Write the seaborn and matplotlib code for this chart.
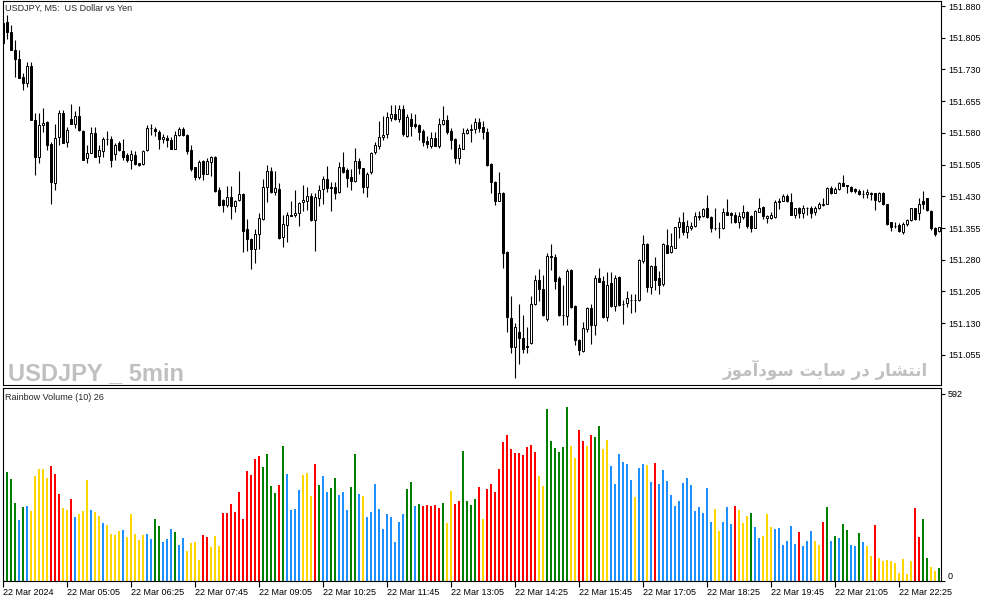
import matplotlib
matplotlib.use('Agg')
import matplotlib.pyplot as plt
import numpy as np
import pandas as pd
import seaborn as sns

# USDJPY M5 candles, 22 Mar 2024 03:45 onwards (one value per bar)
opens = [
    151.839, 151.843, 151.819, 151.777, 151.756, 151.713, 151.698, 151.738, 151.610, 151.524,
    151.599, 151.606, 151.554, 151.461, 151.571, 151.626, 151.558, 151.612, 151.602, 151.621,
    151.585, 151.520, 151.533, 151.580, 151.525, 151.538, 151.565, 151.565, 151.530, 151.555,
    151.538, 151.528, 151.517, 151.527, 151.508, 151.506, 151.539, 151.591, 151.590, 151.582,
    151.565, 151.569, 151.563, 151.543, 151.575, 151.590, 151.575, 151.539, 151.499, 151.476,
    151.513, 151.484, 151.512, 151.524, 151.445, 151.421, 151.409, 151.428, 151.407, 151.421,
    151.435, 151.353, 151.329, 151.305, 151.342, 151.376, 151.451, 151.490, 151.441, 151.447,
    151.334, 151.363, 151.387, 151.386, 151.390, 151.416, 151.419, 151.431, 151.374, 151.427,
    151.447, 151.471, 151.451, 151.451, 151.441, 151.499, 151.492, 151.475, 151.466, 151.513,
    151.496, 151.451, 151.487, 151.534, 151.550, 151.571, 151.577, 151.616, 151.625, 151.613,
    151.636, 151.573, 151.614, 151.602, 151.599, 151.584, 151.561, 151.550, 151.569, 151.550,
    151.600, 151.610, 151.584, 151.565, 151.520, 151.543, 151.579, 151.587, 151.589, 151.605,
    151.594, 151.582, 151.506, 151.464, 151.420, 151.438, 151.299, 151.142, 151.074, 151.108,
    151.094, 151.076, 151.082, 151.175, 151.232, 151.210, 151.139, 151.289, 151.286, 151.238,
    151.149, 151.147, 151.256, 151.171, 151.090, 151.065, 151.116, 151.165, 151.126, 151.236,
    151.230, 151.145, 151.224, 151.171, 151.240, 151.175, 151.177, 151.186, 151.185, 151.185,
    151.278, 151.317, 151.216, 151.265, 151.238, 151.223, 151.315, 151.299, 151.309, 151.357,
    151.370, 151.346, 151.354, 151.360, 151.383, 151.383, 151.402, 151.382, 151.356, 151.356,
    151.354, 151.392, 151.390, 151.387, 151.369, 151.382, 151.394, 151.384, 151.356, 151.394,
    151.405, 151.378, 151.378, 151.382, 151.419, 151.419, 151.431, 151.416, 151.387, 151.402,
    151.390, 151.403, 151.402, 151.394, 151.403, 151.409, 151.413, 151.450, 151.439, 151.447,
    151.461, 151.457, 151.453, 151.447, 151.442, 151.435, 151.435, 151.439, 151.437, 151.419,
    151.439, 151.411, 151.369, 151.360, 151.362, 151.346, 151.364, 151.374, 151.402, 151.390,
    151.419, 151.425, 151.395, 151.356, 151.348,
]
highs = [
    151.843, 151.859, 151.835, 151.799, 151.777, 151.721, 151.748, 151.748, 151.626, 151.626,
    151.638, 151.608, 151.559, 151.602, 151.634, 151.634, 151.594, 151.648, 151.632, 151.643,
    151.587, 151.551, 151.594, 151.594, 151.551, 151.571, 151.585, 151.573, 151.555, 151.561,
    151.565, 151.533, 151.539, 151.538, 151.509, 151.539, 151.599, 151.602, 151.593, 151.588,
    151.577, 151.575, 151.571, 151.585, 151.593, 151.593, 151.577, 151.551, 151.500, 151.516,
    151.516, 151.520, 151.525, 151.526, 151.453, 151.423, 151.454, 151.454, 151.421, 151.490,
    151.437, 151.376, 151.331, 151.353, 151.390, 151.471, 151.504, 151.500, 151.490, 151.461,
    151.386, 151.394, 151.419, 151.445, 151.417, 151.458, 151.453, 151.437, 151.439, 151.458,
    151.479, 151.502, 151.463, 151.464, 151.512, 151.534, 151.496, 151.495, 151.545, 151.521,
    151.498, 151.488, 151.534, 151.559, 151.608, 151.621, 151.629, 151.647, 151.647, 151.647,
    151.647, 151.624, 151.626, 151.624, 151.600, 151.589, 151.573, 151.583, 151.583, 151.616,
    151.643, 151.622, 151.591, 151.567, 151.553, 151.591, 151.591, 151.600, 151.616, 151.616,
    151.608, 151.591, 151.508, 151.467, 151.488, 151.441, 151.301, 151.194, 151.130, 151.175,
    151.149, 151.120, 151.194, 151.244, 151.257, 151.244, 151.295, 151.317, 151.294, 151.242,
    151.220, 151.257, 151.258, 151.173, 151.092, 151.134, 151.169, 151.175, 151.244, 151.260,
    151.242, 151.252, 151.252, 151.244, 151.242, 151.186, 151.207, 151.199, 151.199, 151.281,
    151.338, 151.319, 151.268, 151.287, 151.254, 151.319, 151.352, 151.344, 151.358, 151.380,
    151.394, 151.374, 151.370, 151.394, 151.396, 151.402, 151.433, 151.384, 151.402, 151.370,
    151.403, 151.424, 151.394, 151.394, 151.392, 151.409, 151.396, 151.386, 151.397, 151.427,
    151.408, 151.386, 151.394, 151.421, 151.427, 151.435, 151.435, 151.437, 151.403, 151.405,
    151.409, 151.405, 151.408, 151.408, 151.416, 151.425, 151.453, 151.455, 151.453, 151.463,
    151.480, 151.458, 151.455, 151.449, 151.447, 151.445, 151.447, 151.441, 151.439, 151.441,
    151.441, 151.413, 151.370, 151.369, 151.366, 151.369, 151.376, 151.403, 151.403, 151.425,
    151.442, 151.427, 151.397, 151.358, 151.358,
]
lows = [
    151.788, 151.803, 151.776, 151.713, 151.709, 151.681, 151.689, 151.610, 151.480, 151.508,
    151.583, 151.539, 151.413, 151.445, 151.551, 151.555, 151.547, 151.600, 151.591, 151.585,
    151.516, 151.508, 151.532, 151.522, 151.508, 151.524, 151.551, 151.500, 151.516, 151.537,
    151.516, 151.512, 151.494, 151.504, 151.502, 151.504, 151.537, 151.575, 151.573, 151.541,
    151.555, 151.546, 151.541, 151.541, 151.573, 151.572, 151.530, 151.490, 151.469, 151.472,
    151.469, 151.482, 151.478, 151.441, 151.407, 151.394, 151.405, 151.376, 151.394, 151.418,
    151.299, 151.301, 151.258, 151.272, 151.305, 151.374, 151.417, 151.437, 151.433, 151.330,
    151.311, 151.323, 151.383, 151.382, 151.360, 151.395, 151.397, 151.372, 151.301, 151.408,
    151.413, 151.441, 151.395, 151.424, 151.439, 151.485, 151.453, 151.445, 151.463, 151.484,
    151.439, 151.429, 151.484, 151.529, 151.542, 151.563, 151.567, 151.608, 151.610, 151.606,
    151.573, 151.571, 151.573, 151.591, 151.563, 151.550, 151.545, 151.545, 151.548, 151.545,
    151.598, 151.577, 151.543, 151.508, 151.506, 151.541, 151.577, 151.558, 151.579, 151.583,
    151.565, 151.502, 151.437, 151.409, 151.418, 151.260, 151.110, 151.060, 151.000, 151.034,
    151.059, 151.059, 151.080, 151.173, 151.183, 151.147, 151.136, 151.256, 151.210, 151.147,
    151.126, 151.126, 151.167, 151.078, 151.055, 151.063, 151.108, 151.081, 151.102, 151.227,
    151.143, 151.136, 151.169, 151.160, 151.171, 151.128, 151.169, 151.155, 151.157, 151.183,
    151.273, 151.204, 151.199, 151.208, 151.199, 151.219, 151.295, 151.297, 151.307, 151.331,
    151.338, 151.331, 151.350, 151.358, 151.374, 151.380, 151.378, 151.346, 151.350, 151.331,
    151.352, 151.386, 151.366, 151.366, 151.356, 151.376, 151.354, 151.345, 151.354, 151.392,
    151.376, 151.366, 151.376, 151.379, 151.400, 151.418, 151.416, 151.386, 151.379, 151.379,
    151.379, 151.387, 151.379, 151.387, 151.401, 151.407, 151.411, 151.435, 151.437, 151.445,
    151.454, 151.439, 151.441, 151.437, 151.433, 151.425, 151.425, 151.421, 151.397, 151.417,
    151.409, 151.362, 151.348, 151.356, 151.346, 151.342, 151.360, 151.372, 151.374, 151.374,
    151.400, 151.395, 151.350, 151.337, 151.346,
]
closes = [
    151.792, 151.819, 151.777, 151.754, 151.710, 151.698, 151.738, 151.610, 151.522, 151.599,
    151.604, 151.551, 151.464, 151.567, 151.626, 151.557, 151.587, 151.602, 151.621, 151.587,
    151.517, 151.533, 151.580, 151.524, 151.539, 151.565, 151.565, 151.517, 151.551, 151.539,
    151.522, 151.516, 151.530, 151.506, 151.504, 151.538, 151.591, 151.591, 151.585, 151.565,
    151.571, 151.563, 151.543, 151.575, 151.590, 151.574, 151.538, 151.494, 151.476, 151.512,
    151.484, 151.514, 151.524, 151.443, 151.409, 151.409, 151.429, 151.407, 151.420, 151.435,
    151.348, 151.329, 151.305, 151.340, 151.378, 151.451, 151.490, 151.441, 151.449, 151.332,
    151.364, 151.386, 151.384, 151.391, 151.415, 151.421, 151.431, 151.374, 151.429, 151.445,
    151.471, 151.450, 151.449, 151.439, 151.499, 151.487, 151.474, 151.466, 151.513, 151.496,
    151.451, 151.484, 151.533, 151.551, 151.571, 151.575, 151.617, 151.625, 151.613, 151.636,
    151.577, 151.617, 151.597, 151.597, 151.583, 151.559, 151.554, 151.569, 151.550, 151.600,
    151.610, 151.583, 151.563, 151.520, 151.545, 151.579, 151.587, 151.589, 151.605, 151.592,
    151.582, 151.504, 151.464, 151.420, 151.438, 151.297, 151.145, 151.074, 151.120, 151.094,
    151.068, 151.073, 151.175, 151.232, 151.210, 151.149, 151.289, 151.287, 151.230, 151.149,
    151.149, 151.254, 151.169, 151.090, 151.067, 151.118, 151.165, 151.126, 151.236, 151.228,
    151.145, 151.220, 151.171, 151.238, 151.173, 151.175, 151.189, 151.186, 151.185, 151.279,
    151.317, 151.216, 151.265, 151.232, 151.220, 151.317, 151.297, 151.312, 151.357, 151.370,
    151.346, 151.360, 151.360, 151.383, 151.382, 151.399, 151.380, 151.354, 151.354, 151.356,
    151.394, 151.387, 151.387, 151.369, 151.384, 151.392, 151.360, 151.356, 151.395, 151.403,
    151.384, 151.384, 151.386, 151.417, 151.417, 151.431, 151.419, 151.387, 151.402, 151.390,
    151.403, 151.402, 151.390, 151.403, 151.411, 151.413, 151.449, 151.437, 151.447, 151.461,
    151.455, 151.455, 151.442, 151.442, 151.435, 151.435, 151.441, 151.435, 151.421, 151.439,
    151.411, 151.364, 151.358, 151.360, 151.348, 151.364, 151.374, 151.402, 151.376, 151.411,
    151.413, 151.397, 151.356, 151.342, 151.358,
]

# Rainbow Volume (10): tick volume per bar and its colour class
volumes = [
    360,
    346, 323, 248, 194, 235, 238, 223, 333, 355, 355,
    327, 364, 339, 276, 232, 226, 260, 204, 213, 223,
    320, 226, 219, 207, 185, 179, 150, 147, 160, 163,
    141, 213, 150, 131, 147, 150, 134, 197, 175, 125,
    134, 166, 156, 116, 138, 97, 122, 125, 68, 147,
    141, 109, 144, 112, 216, 216, 245, 219, 282, 197,
    349, 336, 386, 396, 361, 402, 301, 279, 305, 427,
    339, 226, 229, 289, 336, 342, 270, 371, 305, 333,
    282, 295, 327, 273, 282, 226, 298, 402, 276, 270,
    204, 219, 308, 229, 166, 213, 204, 125, 188, 213,
    292, 314, 238, 245, 238, 242, 238, 242, 232, 248,
    185, 286, 245, 254, 412, 254, 242, 260, 298, 197,
    292, 308, 282, 355, 440, 462, 418, 405, 405, 399,
    424, 431, 408, 333, 301, 544, 443, 421, 408, 424,
    550, 427, 390, 478, 443, 427, 462, 456, 490, 418,
    446, 364, 308, 402, 377, 371, 320, 267, 358, 371,
    368, 314, 374, 308, 352, 317, 273, 238, 254, 311,
    327, 305, 223, 235, 216, 295, 188, 229, 160, 188,
    235, 182, 238, 226, 185, 207, 216, 172, 138, 144,
    213, 172, 166, 169, 116, 128, 175, 119, 156, 112,
    128, 160, 128, 116, 188, 235, 128, 144, 138, 182,
    163, 116, 112, 153, 125, 112, 81, 179, 75, 65,
    68, 65, 59, 27, 71, 24, 65, 232, 141, 197,
    75, 46, 34, 43,
]
vol_codes = ("g"
             "gggbgbyyyy" "yrrryyrbyy" "ybyybyyyyb" "yyyyybbggb" "bbgbbyyyyr"
             "ryyyrrrrrr" "rrrrggggrg" "bbbbyyyrgb" "bggbbbggby" "bbbbbbbbbb"
             "ggbgrrrrrg" "yyrrggggry" "rrrrrrrrrr" "rrryyggggg" "gyyrryrggy"
             "ybbbbbbybb" "ybrbbbbbbb" "bbbbbbbyyb" "bbryyygbby" "yybbbbbbrb"
             "bbyyrgbgbg" "gbbgbyyryy" "yyyyyyyrrg" "gyyg")
code_colours = {'g': '#008000', 'b': '#1e90ff', 'y': '#ffd700', 'r': '#ff0000'}

price_ticks = [151.880, 151.805, 151.730, 151.655, 151.580, 151.505,
               151.430, 151.355, 151.280, 151.205, 151.130, 151.055]
time_pos = [0, 16, 32, 48, 64, 80, 96, 112, 128, 144, 160, 176, 192, 208, 224]
time_labels = ["22 Mar 2024", "22 Mar 05:05", "22 Mar 06:25", "22 Mar 07:45",
               "22 Mar 09:05", "22 Mar 10:25", "22 Mar 11:45", "22 Mar 13:05",
               "22 Mar 14:25", "22 Mar 15:45", "22 Mar 17:05", "22 Mar 18:25",
               "22 Mar 19:45", "22 Mar 21:05", "22 Mar 22:25"]

# "انتشار در سایت سودآموز" written with Arabic presentation forms in visual order
# (matplotlib has no text shaping of its own)
site_text = ("\ufeaf\ufeee\ufee3\ufe81\ufea9\ufeee\ufeb3 "
             "\ufe96\ufef3\ufe8e\ufeb3 "
             "\ufead\ufea9 "
             "\ufead\ufe8e\ufeb8\ufe98\ufee7\ufe8d")

sns.set_style('white')
plt.rcParams['font.family'] = ['Liberation Sans', 'DejaVu Sans']
small = 6.5

fig = plt.figure(figsize=(9.94, 6.03), dpi=100)
ax = fig.add_axes([0.00252, 0.36235, 0.9442, 0.6360])
ax2 = fig.add_axes([0.00252, 0.03566, 0.9442, 0.3217])

x = np.arange(len(closes))
o = np.array(opens)
c = np.array(closes)
bull = c >= o

# candles: wicks then bodies (white = up, black = down)
ax.vlines(x, lows, highs, color='black', linewidth=0.8, zorder=2)
ax.bar(x, np.abs(c - o), bottom=np.minimum(o, c), width=0.5,
       color=np.where(bull, 'white', 'black'), edgecolor='black',
       linewidth=0.7, zorder=3)

xlim = (-0.05, 234.575)
ax.set_xlim(*xlim)
ax.set_ylim(150.985, 151.892)
ax.set_xticks([])
ax.yaxis.tick_right()
ax.set_yticks(price_ticks)
ax.set_yticklabels([f"{p:.3f}" for p in price_ticks])
ax.tick_params(axis='y', direction='out', length=3, width=0.8, labelsize=small,
               pad=2, colors='black', right=True)

# volume histogram
vol_df = pd.DataFrame({'bar': x, 'volume': volumes})
sns.barplot(data=vol_df, x='bar', y='volume', hue='bar',
            palette=[code_colours[k] for k in vol_codes], width=0.5,
            saturation=1, linewidth=0, legend=False, ax=ax2)
ax2.set_xlim(*xlim)
ax2.set_ylim(0, 612)
ax2.set_xlabel('')
ax2.set_ylabel('')
ax2.yaxis.tick_right()
ax2.set_yticks([0, 592])
ax2.set_yticklabels(['0', '592'])
ax2.get_yticklabels()[0].set_va('bottom')
ax2.tick_params(axis='y', direction='out', length=3, width=0.8, labelsize=small,
                pad=2, colors='black', right=True, left=False)
ax2.set_xticks(time_pos)
ax2.set_xticklabels(time_labels, ha='left')
ax2.tick_params(axis='x', direction='out', length=4, width=0.8, labelsize=small,
                pad=1, colors='black', bottom=True)

for a in (ax, ax2):
    for s in a.spines.values():
        s.set_color('black')
        s.set_linewidth(0.8)
        s.set_visible(True)

fig.text(5 / 994, 1 - 8 / 603, "USDJPY, M5:  US Dollar vs Yen", fontsize=small,
         va='center', ha='left')
fig.text(5 / 994, 1 - 397 / 603, "Rainbow Volume (10) 26", fontsize=small,
         va='center', ha='left')

wm_grey = '#c0c0c0'
fig.text(8 / 994, 1 - 380 / 603, "USDJPY _ 5min", fontsize=17, fontweight='bold',
         family=['Liberation Sans', 'DejaVu Sans'],
         color=wm_grey, va='baseline', ha='left')
fig.text(928 / 994, 1 - 376 / 603, site_text, fontsize=12, fontweight='bold',
         family=['DejaVu Sans'], color=wm_grey, va='baseline', ha='right')

fig.savefig('out.png', dpi=100, facecolor='white')
